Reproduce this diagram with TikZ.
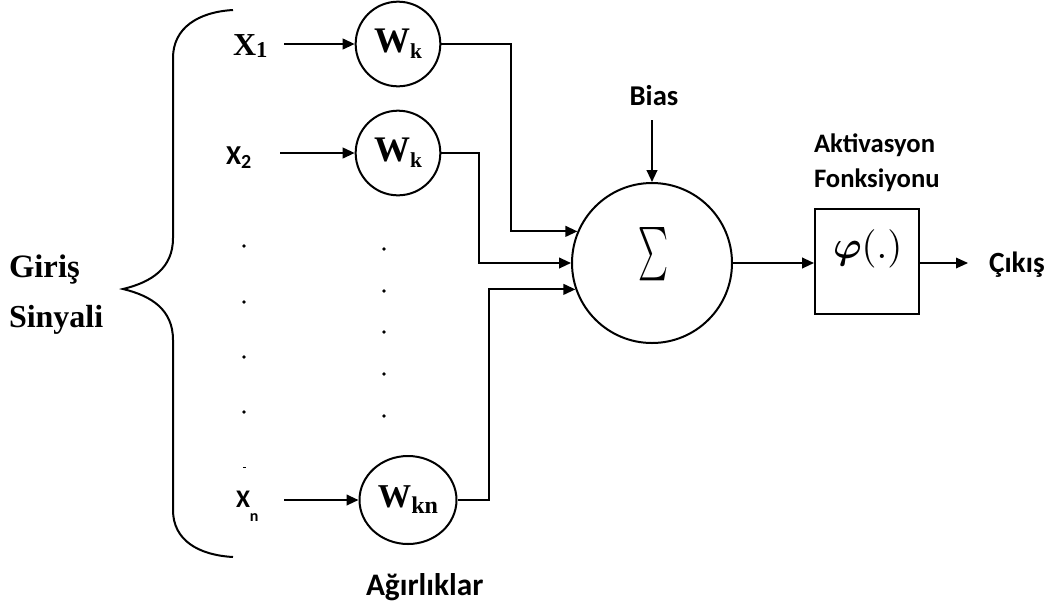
\documentclass[tikz,border=0pt]{standalone}
\usepackage{fontspec}
\usepackage{graphicx}
\usepackage{bm}
\usetikzlibrary{arrows.meta,shapes.geometric}
\newfontfamily\calfont{Carlito}
\newfontfamily\tmsfont{Liberation Serif}
\newcommand\wlabel[3]{{\tmsfont\bfseries\fontsize{#1}{#1}\selectfont W\raisebox{-4.5pt}{\fontsize{#2}{#2}\selectfont #3}}}
\begin{document}
\begin{tikzpicture}[x=0.75pt,y=-0.75pt,line width=1.5pt,
  arr/.style={-{Triangle[length=9pt,width=8pt]}},
  wcirc/.style={circle,draw,line width=1.5pt,inner sep=0pt,minimum size=63.5pt},
  lbl/.style={inner sep=0pt,anchor=base west},
  calb/.style={font=\calfont\bfseries\fontsize{#1}{#1}\selectfont},
  tmsb/.style={font=\tmsfont\bfseries\fontsize{#1}{#1}\selectfont}]
\useasboundingbox (0,0) rectangle (1053,608);
% brace
\draw (233,10) .. controls (198,12) and (173,28) .. (173,58) -- (173,238)
  .. controls (173,268) and (152,282) .. (123,289)
  .. controls (152,296) and (173,310) .. (173,340) -- (173,510)
  .. controls (173,540) and (198,555) .. (233,557);
\node[lbl,tmsb=24.5] (giris) at (8,277) {Giriş};
\node[lbl,tmsb=24] (sinyali) at (8,327) {Sinyali};
% inputs
\node[lbl,tmsb=24] (x1) at (232,55) {X\raisebox{-2pt}{\fontsize{17}{17}\selectfont 1}};
\node[lbl,calb=20.5] (x2) at (225,164) {X\raisebox{-3pt}{\fontsize{15}{15}\selectfont 2}};
\node[lbl,calb=19] (xn) at (235,507) {X\raisebox{-11pt}{\fontsize{12}{12}\selectfont n}};
\node[wcirc] (w1) at (398,44) {\wlabel{27}{16}{k}};
\node[wcirc] (w2) at (398,153) {\wlabel{27}{16}{k}};
\node[ellipse,draw,line width=1.5pt,inner sep=0pt,minimum width=72.75pt,minimum height=66pt] (wn) at (408,500) {\wlabel{25}{18}{kn}};
\coordinate (a1) at (284,44);
\coordinate (a2) at (280,153);
\coordinate (an) at (284,500);
\draw[arr] (a1) -- (w1);
\draw[arr] (a2) -- (w2);
\draw[arr] (an) -- (wn);
% dots
\foreach \yy in {246,302,357,412} \fill (244,\yy) circle (1.4pt);
\fill (242.5,466.5) rectangle (245.5,467.8);
\foreach \yy in {249,291,332,374,416} \fill (384,\yy) circle (1.4pt);
% sum
\node[circle,draw,line width=1.5pt,inner sep=0pt,minimum size=120pt] (sum) at (652,263) {};
\node[inner sep=0pt] (sigma) at (653,254) {\resizebox{22.5pt}{30pt}{$\sum$}};
\draw[arr] (w1.east) -- ++(70,0) |- (sum.157);
\draw[arr] (w2.east) -- ++(38,0) |- (sum.west);
\draw[arr] (wn.east) -- ++(31,0) |- (sum.199);
% bias
\node[calb=21.5,inner sep=0pt,anchor=base] (bias) at (654,105) {Bias};
\coordinate (bin) at (652,120);
\draw[arr] (bin) -- (sum.north);
% activation
\node[draw,line width=1.5pt,inner sep=0pt,minimum width=78pt,minimum height=78.75pt] (box) at (867,261) {};
\node[inner sep=0pt,anchor=west] (phi) at (832,249) {\resizebox{52pt}{!}{$\bm{\varphi}(.)$}};
\node[lbl,calb=20] (akt) at (813,152) {Aktivasyon};
\node[lbl,calb=20] (fonk) at (813,187) {Fonksiyonu};
\draw[arr] (sum.east) -- (sum.east -| box.west);
\coordinate (out) at (968,263);
\draw[arr,line width=0.9pt] (box.east |- out) -- (out);
\node[lbl,calb=22] (cikis) at (988,272) {Çıkış};
\node[lbl,calb=23.5] (agir) at (365,595) {Ağırlıklar};
\end{tikzpicture}
\end{document}
